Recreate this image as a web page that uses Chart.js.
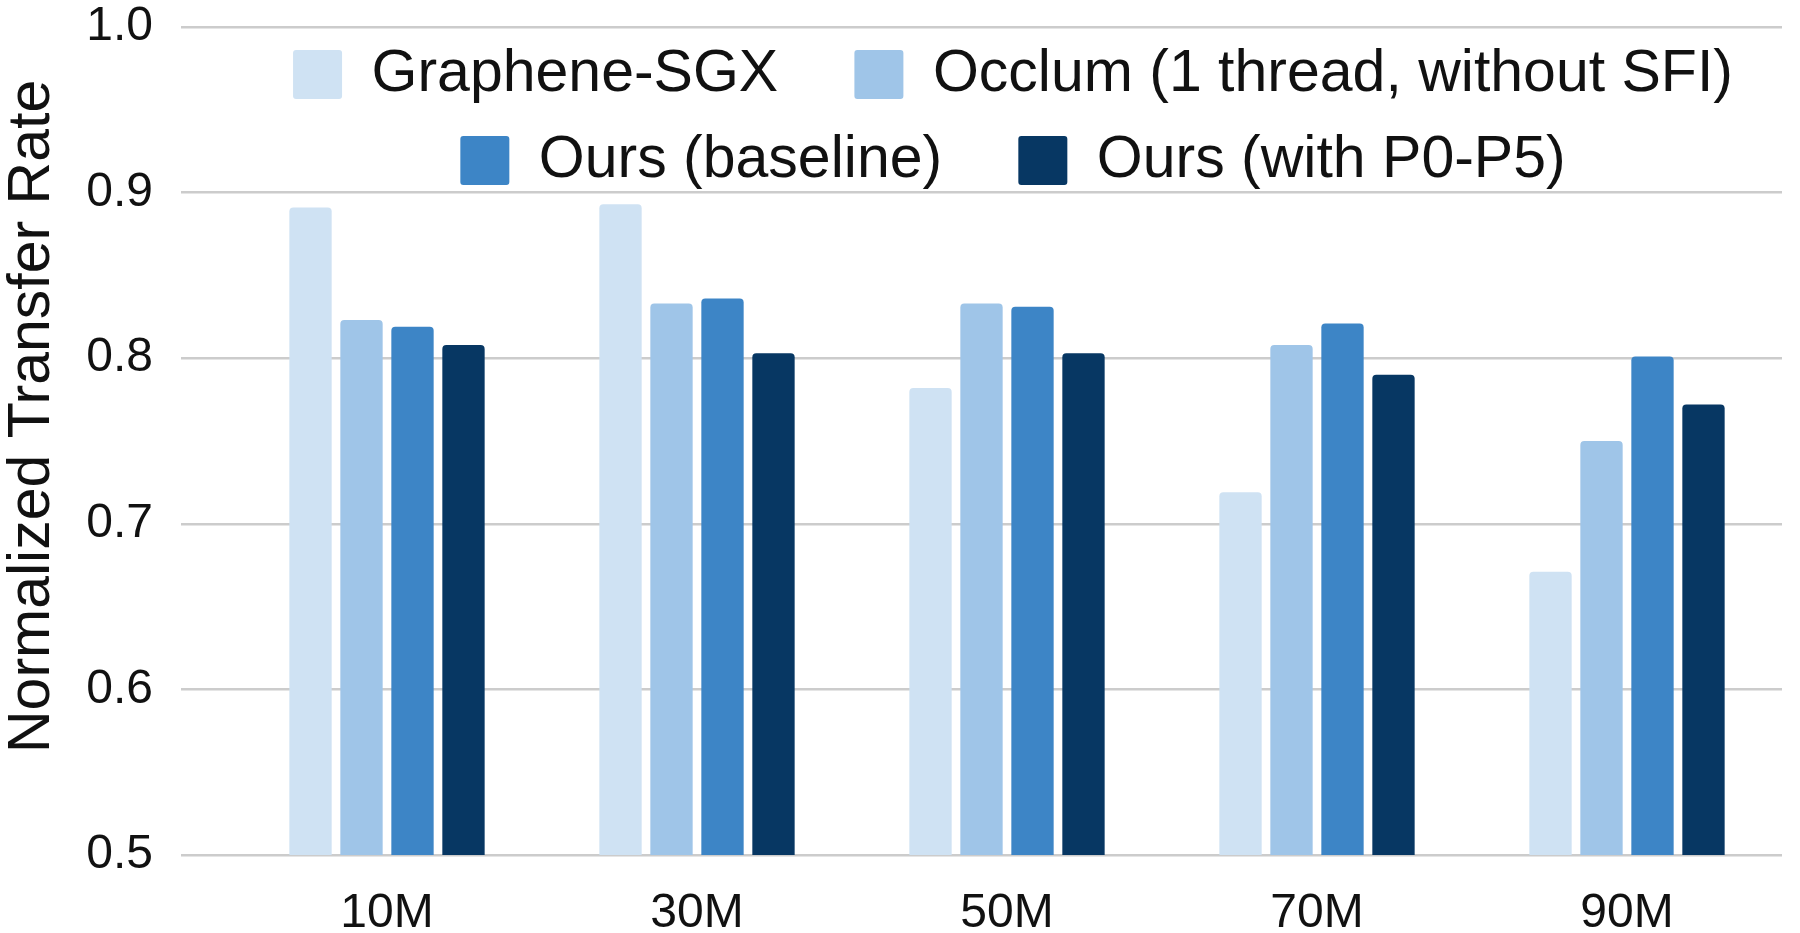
<!DOCTYPE html>
<html>
<head>
<meta charset="utf-8">
<title>Normalized Transfer Rate</title>
<script src="https://cdn.jsdelivr.net/npm/chart.js@4/dist/chart.umd.min.js"></script>
<style>
  html, body { margin: 0; padding: 0; background: #ffffff; }
  #chart_wrap { width: 1800px; height: 933px; }
</style>
</head>
<body>
<div id="chart_wrap"><canvas id="transfer_rate" width="1800" height="933"></canvas></div>
<script>
// data
const CATEGORIES = ["10M", "30M", "50M", "70M", "90M"];
const SERIES_NAMES = [
  "Graphene-SGX",
  "Occlum (1 thread, without SFI)",
  "Ours (baseline)",
  "Ours (with P0-P5)",
];
const GRAPHENE_SGX = [0.891, 0.893, 0.782, 0.719, 0.671];
const OCCLUM = [0.823, 0.833, 0.833, 0.808, 0.750];
const OURS_BASELINE = [0.819, 0.836, 0.831, 0.821, 0.801];
const OURS_P0_P5 = [0.808, 0.803, 0.803, 0.790, 0.772];
const Y_TICKS = [0.5, 0.6, 0.7, 0.8, 0.9, 1.0];
const Y_TITLE = "Normalized Transfer Rate";

const COLORS = ["#cfe2f3", "#9fc5e8", "#3d85c6", "#073763"];
const GRID_COLOR = "#cccccc";
const FONT = "'Liberation Sans', Arial, sans-serif";

window.onload = init;

function init() {
  Chart.defaults.font.family = FONT;
  Chart.defaults.color = "#111111";
  const ctx = document.getElementById("transfer_rate");
  let values = [GRAPHENE_SGX, OCCLUM, OURS_BASELINE, OURS_P0_P5];

  let chart = new Chart(ctx, {
    type: "bar",
    data: getData(values),
    options: getOptions(),
    plugins: [legendInPlot],
  });
}

function getData(values) {
  return {
    labels: CATEGORIES,
    datasets: values.map(function (series, i) {
      return {
        label: SERIES_NAMES[i],
        data: series,
        backgroundColor: COLORS[i],
        borderWidth: 0,
        borderRadius: 4,
        borderSkipped: "start",
        categoryPercentage: 0.658,
        barPercentage: 0.83,
      };
    }),
  };
}

// the legend sits inside the plot area, like in the sheet export
const legendInPlot = {
  id: "legendInPlot",
  afterInit(chart) {
    const legend = chart.legend;
    const fit = legend.fit;
    legend.fit = function () {
      fit.call(this);
      this.plotHeight = this.height;
      this.height = 0;
    };
  },
  afterLayout(chart) {
    const legend = chart.legend;
    const area = chart.chartArea;
    legend.left = area.left + 6;
    legend.right = area.right + 6;
    legend.width = legend.right - legend.left;
    legend.top = 18;
    legend.height = legend.plotHeight;
    legend.bottom = legend.top + legend.height;
  },
};

function getOptions() {
  return {
    responsive: false,
    animation: false,
    layout: { padding: { top: 27, right: 18, bottom: 0, left: 0 } },
    plugins: {
      tooltip: { enabled: false },
      legend: {
        position: "top",
        align: "center",
        labels: {
          font: { size: 59 },
          color: "#111111",
          boxWidth: 49,
          boxHeight: 49,
          padding: 27,
          useBorderRadius: true,
          borderRadius: 3,
          generateLabels: function (chart) {
            let items = Chart.defaults.plugins.legend.labels.generateLabels(chart);
            items.forEach(function (item, i) {
              // first item of each row has a wider gap after it
              if (i % 2 === 0) item.text = item.text + "   ";
            });
            return items;
          },
        },
      },
    },
    scales: {
      x: {
        grid: { display: false, drawTicks: false },
        border: { display: false },
        ticks: {
          font: { size: 48, lineHeight: 1.2 },
          color: "#111111",
          padding: 30,
          maxRotation: 0,
          autoSkip: false,
        },
        afterFit: function (scale) {
          scale.height = 78;
        },
      },
      y: {
        min: 0.5,
        max: 1.0,
        grid: {
          color: GRID_COLOR,
          lineWidth: 2.5,
          drawTicks: true,
          tickLength: 51,
        },
        border: { display: false },
        ticks: {
          font: { size: 48, lineHeight: 1.0 },
          color: "#111111",
          padding: 28,
          callback: function (v) {
            return Number(v).toFixed(1);
          },
        },
        afterBuildTicks: function (scale) {
          scale.ticks = Y_TICKS.map(function (v) {
            return { value: v };
          });
        },
        afterFit: function (scale) {
          scale.width = 232;
          scale.paddingTop = 0;
          scale.paddingBottom = 0;
        },
        title: {
          display: true,
          // leading spaces lift the title a bit, as in the original
          text: "   " + Y_TITLE,
          font: { size: 59, lineHeight: 1.1 },
          color: "#111111",
          padding: { top: 0, bottom: 0 },
        },
      },
    },
  };
}
</script>
</body>
</html>
